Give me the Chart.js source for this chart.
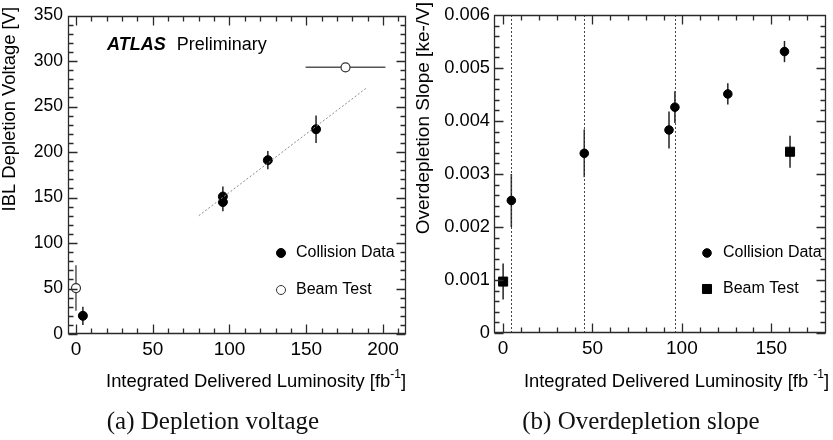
<!DOCTYPE html>
<html>
<head>
<meta charset="utf-8">
<script src="https://cdn.jsdelivr.net/npm/chart.js@4.4.1/dist/chart.umd.min.js"></script>
<style>
  body { margin: 0; background: #fff; width: 833px; height: 440px; overflow: hidden; position: relative; }
  canvas { position: absolute; top: 0; }
  #chartA { left: 0; }
  #chartB { left: 415px; }
  .cap { position: absolute; top: 407px; line-height: 28px; font-family: "Liberation Serif", serif; font-size: 25px;
         text-align: center; white-space: nowrap; color: #111; width: 300px; }
</style>
</head>
<body>
<canvas id="chartA" width="415" height="440"></canvas>
<canvas id="chartB" width="418" height="440"></canvas>
<div class="cap" style="left:63px">(a) Depletion voltage</div>
<div class="cap" style="left:491px">(b) Overdepletion slope</div>
<script>
// (a) depletion voltage
const lumiA = [4.5, 95.7, 95.7, 125, 156.4];
const voltA = [20, 151, 145, 191, 225];
const voltErrA = [10, 11, 10, 10, 15];
const beamLumiA = [0, 175.6];
const beamVoltA = [50.5, 293];
const beamVoltErrA = [25, 0];
const beamLumiErrA = [0, 26];
const fitLumiA = [80, 189];
const fitVoltA = [130, 270];
const xTicksA = [0, 50, 100, 150, 200];
const yTicksA = [0, 50, 100, 150, 200, 250, 300, 350];

// (b) overdepletion slope
const lumiB = [4.6, 45.4, 92.8, 96.1, 125.7, 157.4];
const slopeB = [0.0025, 0.00339, 0.00383, 0.00426, 0.00451, 0.00531];
const slopeErrB = [0.0005, 0.00045, 0.00035, 0.0003, 0.0002, 0.0002];
const beamLumiB = [0, 160.5];
const beamSlopeB = [0.00097, 0.00342];
const beamSlopeErrB = [0.00034, 0.0003];
const periodLumiB = [4.6, 45.4, 96];
const xTicksB = [0, 50, 100, 150];
const yTicksB = [0, 0.001, 0.002, 0.003, 0.004, 0.005, 0.006];

const FONT = '"Liberation Sans", Arial, sans-serif';
const pts = (xs, ys) => xs.map((x, i) => ({ x: x, y: ys[i] }));

const errorBars = {
  id: 'errorBars',
  beforeDatasetsDraw(chart) {
    const ctx = chart.ctx, xs = chart.scales.x, ys = chart.scales.y;
    chart.data.datasets.forEach(ds => {
      if (!ds.yErr && !ds.xErr) return;
      ctx.save();
      ctx.strokeStyle = ds.errColor || '#222';
      ctx.lineWidth = 1.5;
      ds.data.forEach((p, i) => {
        const px = xs.getPixelForValue(p.x), py = ys.getPixelForValue(p.y);
        const ey = ds.yErr ? ds.yErr[i] : 0, ex = ds.xErr ? ds.xErr[i] : 0;
        ctx.beginPath();
        if (ey) { ctx.moveTo(px, ys.getPixelForValue(p.y - ey)); ctx.lineTo(px, ys.getPixelForValue(p.y + ey)); }
        if (ex) { ctx.moveTo(xs.getPixelForValue(p.x - ex), py); ctx.lineTo(xs.getPixelForValue(p.x + ex), py); }
        ctx.stroke();
      });
      ctx.restore();
    });
  }
};

// dotted vertical lines (run periods)
function vLines(values) {
  return {
    id: 'vLines',
    beforeDatasetsDraw(chart) {
      const ctx = chart.ctx, a = chart.chartArea, xs = chart.scales.x;
      ctx.save();
      ctx.strokeStyle = '#444';
      ctx.lineWidth = 1;
      ctx.setLineDash([2, 2]);
      values.forEach(v => {
        const px = Math.round(xs.getPixelForValue(v)) + 0.5;
        ctx.beginPath(); ctx.moveTo(px, a.top); ctx.lineTo(px, a.bottom); ctx.stroke();
      });
      ctx.restore();
    }
  };
}

// ROOT-style frame with inward ticks on all four sides
function frame(xMinor, xEvery, yMinor, yEvery) {
  return {
    id: 'frame',
    afterDraw(chart) {
      const ctx = chart.ctx, a = chart.chartArea, xs = chart.scales.x, ys = chart.scales.y;
      const L = Math.round(a.left) + 0.5, R = Math.round(a.right) - 0.5;
      const T = Math.round(a.top) + 0.5, B = Math.round(a.bottom) - 0.5;
      ctx.save();
      ctx.strokeStyle = '#2a2a2a';
      ctx.lineWidth = 1.3;
      ctx.setLineDash([]);
      ctx.beginPath();
      ctx.moveTo(L, T); ctx.lineTo(R, T); ctx.lineTo(R, B); ctx.lineTo(L, B); ctx.closePath();
      const i0 = Math.ceil(xs.min / xMinor - 1e-9), i1 = Math.floor(xs.max / xMinor + 1e-9);
      for (let i = i0; i <= i1; i++) {
        const len = i % xEvery === 0 ? 9 : 5;
        const px = Math.round(xs.getPixelForValue(i * xMinor)) + 0.5;
        ctx.moveTo(px, B); ctx.lineTo(px, B - len);
        ctx.moveTo(px, T); ctx.lineTo(px, T + len);
      }
      const j0 = Math.ceil(ys.min / yMinor - 1e-9), j1 = Math.floor(ys.max / yMinor + 1e-9);
      for (let j = j0; j <= j1; j++) {
        const len = j % yEvery === 0 ? 9 : 5;
        const py = Math.round(ys.getPixelForValue(j * yMinor)) + 0.5;
        ctx.moveTo(L, py); ctx.lineTo(L + len, py);
        ctx.moveTo(R, py); ctx.lineTo(R - len, py);
      }
      ctx.stroke();
      ctx.restore();
    }
  };
}

// axis titles, ATLAS label and legend
function texts(o) {
  return {
    id: 'texts',
    afterDraw(chart) {
      const ctx = chart.ctx;
      ctx.save();
      ctx.fillStyle = '#000';
      ctx.textBaseline = 'middle';
      // y title
      ctx.save();
      ctx.translate(o.yTitleX, o.yTitleTop);
      ctx.rotate(-Math.PI / 2);
      ctx.textAlign = 'right';
      ctx.font = o.yTitleSize + 'px ' + FONT;
      ctx.fillText(o.yTitle, 0, 0);
      ctx.restore();
      // x title with superscript, right aligned
      ctx.textAlign = 'left';
      const big = o.xTitleSize + 'px ' + FONT, small = Math.round(o.xTitleSize * 0.65) + 'px ' + FONT;
      ctx.font = big;
      const wEnd = ctx.measureText(']').width, wMain = ctx.measureText(o.xTitle).width;
      ctx.font = small;
      const wSup = ctx.measureText('-1').width;
      const x = o.xTitleRight - wEnd - wSup - wMain;
      ctx.font = big;
      ctx.fillText(o.xTitle, x, o.xTitleY);
      ctx.font = small;
      ctx.fillText('-1', x + wMain, o.xTitleY - 7);
      ctx.font = big;
      ctx.fillText(']', x + wMain + wSup, o.xTitleY);
      // ATLAS Preliminary
      if (o.atlas) {
        ctx.font = 'italic bold 18px ' + FONT;
        ctx.fillText('ATLAS', o.atlas.x, o.atlas.y);
        const w = ctx.measureText('ATLAS').width;
        ctx.font = '18px ' + FONT;
        ctx.fillText('Preliminary', o.atlas.x + w + 11, o.atlas.y);
      }
      // legend
      ctx.font = o.legend.size + 'px ' + FONT;
      o.legend.items.forEach((it, i) => {
        const y = o.legend.y + i * o.legend.dy;
        ctx.save();
        ctx.fillStyle = it.fill;
        ctx.strokeStyle = it.stroke;
        ctx.lineWidth = 1;
        Chart.helpers.drawPoint(ctx, { pointStyle: it.style, radius: it.radius, borderWidth: 1 }, o.legend.x, y);
        ctx.restore();
        ctx.fillText(it.label, o.legend.textX, y);
      });
      ctx.restore();
    }
  };
}

function scaleOpts(min, max, ticks, fit, size, pad, fmt) {
  return {
    type: 'linear', min: min, max: max,
    afterBuildTicks: s => { s.ticks = ticks.map(v => ({ value: v })); },
    afterFit: fit,
    grid: { display: false, drawTicks: false },
    border: { display: false },
    ticks: { color: '#000', font: { family: FONT, size: size }, padding: pad, autoSkip: false, maxRotation: 0,
             callback: fmt || (v => String(v)) }
  };
}

new Chart(document.getElementById('chartA'), {
  type: 'scatter',
  data: {
    datasets: [
      { label: 'fit', type: 'line', data: pts(fitLumiA, fitVoltA), borderColor: '#8a8a8a', borderWidth: 1,
        borderDash: [2, 2], pointRadius: 0, fill: false },
      { label: 'Collision Data', data: pts(lumiA, voltA), yErr: voltErrA, pointStyle: 'circle', pointRadius: 4.5,
        backgroundColor: '#000', borderColor: '#000', borderWidth: 1 },
      { label: 'Beam Test', data: pts(beamLumiA, beamVoltA), yErr: beamVoltErrA, xErr: beamLumiErrA, errColor: '#555',
        pointStyle: 'circle', pointRadius: 4.5, backgroundColor: '#fff', borderColor: '#333', borderWidth: 1.2 }
    ]
  },
  options: {
    responsive: false, animation: false, events: [], devicePixelRatio: 1,
    layout: { padding: { top: 9, right: 9, left: 0, bottom: 0 } },
    scales: {
      x: scaleOpts(-5.2, 215, xTicksA, s => { s.height = 106; }, 19, 4),
      y: scaleOpts(0, 350, yTicksA, s => { s.width = 68; }, 17.5, 5)
    },
    plugins: { legend: { display: false }, tooltip: { enabled: false } }
  },
  plugins: [errorBars, frame(10, 5, 10, 5), texts({
    yTitle: 'IBL Depletion Voltage [V]', yTitleX: 10, yTitleTop: 7, yTitleSize: 18.4,
    xTitle: 'Integrated Delivered Luminosity [fb', xTitleRight: 406, xTitleY: 382, xTitleSize: 18.4,
    atlas: { x: 107, y: 45 },
    legend: { x: 281, y: 253, dy: 37, textX: 296, size: 16, items: [
      { label: 'Collision Data', style: 'circle', radius: 4.5, fill: '#000', stroke: '#000' },
      { label: 'Beam Test', style: 'circle', radius: 4.5, fill: '#fff', stroke: '#333' }
    ] }
  })]
});

new Chart(document.getElementById('chartB'), {
  type: 'scatter',
  data: {
    datasets: [
      { label: 'Collision Data', data: pts(lumiB, slopeB), yErr: slopeErrB, pointStyle: 'circle', pointRadius: 4.3,
        backgroundColor: '#000', borderColor: '#000', borderWidth: 1 },
      { label: 'Beam Test', data: pts(beamLumiB, beamSlopeB), yErr: beamSlopeErrB, pointStyle: 'rect', pointRadius: 6.4,
        backgroundColor: '#000', borderColor: '#000', borderWidth: 1 }
    ]
  },
  options: {
    responsive: false, animation: false, events: [], devicePixelRatio: 1,
    layout: { padding: { top: 9, right: 1, left: 0, bottom: 0 } },
    scales: {
      x: scaleOpts(-5.1, 180.4, xTicksB, s => { s.height = 107; }, 19, 4),
      y: scaleOpts(0, 0.006, yTicksB, s => { s.width = 79; }, 18.3, 4, v => (v === 0 ? '0' : v.toFixed(3)))
    },
    plugins: { legend: { display: false }, tooltip: { enabled: false } }
  },
  plugins: [errorBars, vLines(periodLumiB), frame(10, 5, 0.0002, 5), texts({
    yTitle: 'Overdepletion Slope [ke-/V]', yTitleX: 9, yTitleTop: 2, yTitleSize: 19,
    xTitle: 'Integrated Delivered Luminosity [fb ', xTitleRight: 414, xTitleY: 382, xTitleSize: 18.4,
    legend: { x: 292, y: 253, dy: 36, textX: 308, size: 16, items: [
      { label: 'Collision Data', style: 'circle', radius: 4.3, fill: '#000', stroke: '#000' },
      { label: 'Beam Test', style: 'rect', radius: 6.4, fill: '#000', stroke: '#000' }
    ] }
  })]
});
</script>
</body>
</html>
